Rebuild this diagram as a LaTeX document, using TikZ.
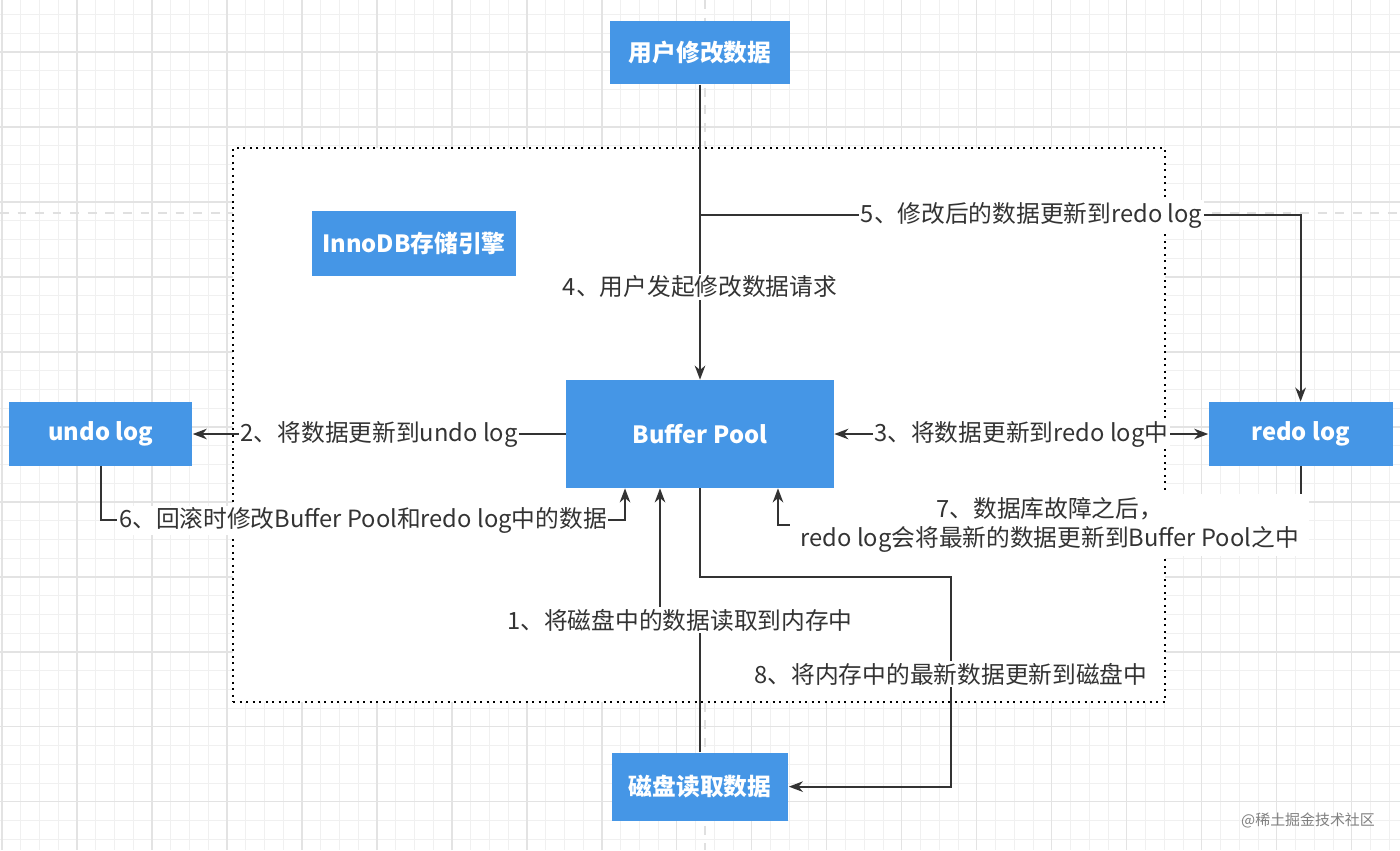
\documentclass[tikz,border=0pt]{standalone}
\usepackage{fontspec}
\setmainfont{Noto Sans CJK SC}
\usetikzlibrary{arrows.meta, positioning}

\definecolor{nodeblue}{HTML}{4596E6}
\definecolor{inkgray}{HTML}{333333}

\begin{document}
\begin{tikzpicture}[x=0.02cm, y=-0.02cm,
      block/.style={fill=nodeblue, text=white, inner sep=0pt, font=\fontsize{13.5}{16}\selectfont\bfseries},
      arrow/.style={-{Stealth[length=8pt, width=6pt, inset=2.5pt]}, line width=1.1pt, draw=inkgray},
      twoway/.style={{Stealth[length=8pt, width=6pt, inset=2.5pt]}-{Stealth[length=8pt, width=6pt, inset=2.5pt]}, line width=1.1pt, draw=inkgray},
      lbl/.style={fill=white, text=inkgray, inner sep=1pt, align=center, font=\fontsize{13.5}{16.5}\selectfont},
      frame/.style={draw=black, fill=white, line width=1.2pt, dash pattern=on 1.2pt off 2.5pt},
      gridminor/.style={draw=black!6, line width=0.5pt},
      gridmajor/.style={draw=black!11, line width=0.7pt},
      guide/.style={draw=black!12, line width=1.6pt, dash pattern=on 5pt off 5pt}
    ]
    \useasboundingbox (0,0) rectangle (1400,850);
    \fill[white] (0,0) rectangle (1400,850);

    % background grid of the canvas
    \begin{scope}[shift={(2,52)}]
      \draw[gridminor, step=0.375cm] (-2,-52) grid (1398,798);
      \draw[gridmajor, step=1.5cm] (-2,-52) grid (1398,798);
    \end{scope}
    \draw[guide] (0,213) -- (1400,213);
    \draw[guide] (705,0) -- (705,850);

    % engine frame
    \node[frame, minimum width=18.64cm, minimum height=11.08cm] (engine) at (699,425) {};

    \node[block, minimum width=5.36cm, minimum height=2.16cm] (pool) at (700,434) {Buffer Pool};
    \node[block, minimum width=3.6cm, minimum height=1.26cm, above=5.9cm of pool] (user) {用户修改数据};
    \node[block, minimum width=3.66cm, minimum height=1.28cm, left=7.46cm of pool] (undo) {undo log};
    \node[block, minimum width=3.68cm, minimum height=1.28cm, right=7.48cm of pool] (redo) {redo log};
    \node[block, minimum width=3.54cm, minimum height=1.36cm, below=5.28cm of pool] (disk) {磁盘读取数据};
    \node[block, minimum width=4.08cm, minimum height=1.3cm] (innodb) at (414,243) {InnoDB存储引擎};

    \coordinate (split) at (700,215);
    \coordinate (flush) at (951,577);

    \draw[arrow] (user) -- node[lbl, pos=0.685] {4、用户发起修改数据请求} (pool);
    \draw[arrow] (split) -| node[lbl, pos=0.276] {5、修改后的数据更新到redo log} (redo);
    \draw[arrow] (pool) -- node[lbl] {2、将数据更新到undo log} (undo);
    \draw[twoway] (pool) -- node[lbl] {3、将数据更新到redo log中} (redo);
    \draw[arrow] (undo.south) -- ++(0,54) -| node[lbl, pos=0.25] {6、回滚时修改Buffer Pool和redo log中的数据} ([xshift=-1.5cm]pool.south);
    \draw[arrow] (redo.south) -- ++(0,59) -| node[lbl, pos=0.24, inner xsep=6pt, inner ysep=2pt] {7、数据库故障之后，\\redo log会将最新的数据更新到Buffer Pool之中} ([xshift=1.56cm]pool.south);
    \draw[arrow] (disk.north) -- ++(0,-132) -| node[lbl, pos=0.25] {1、将磁盘中的数据读取到内存中} ([xshift=-0.8cm]pool.south);
    \draw[arrow] (pool.south) |- (flush) |- node[lbl, pos=0.232] {8、将内存中的最新数据更新到磁盘中} (disk);

    \node[text=black!50, font=\fontsize{8.5}{10}\selectfont] (mark) at (1308,820) {@稀土掘金技术社区};
  \end{tikzpicture}
\end{document}
